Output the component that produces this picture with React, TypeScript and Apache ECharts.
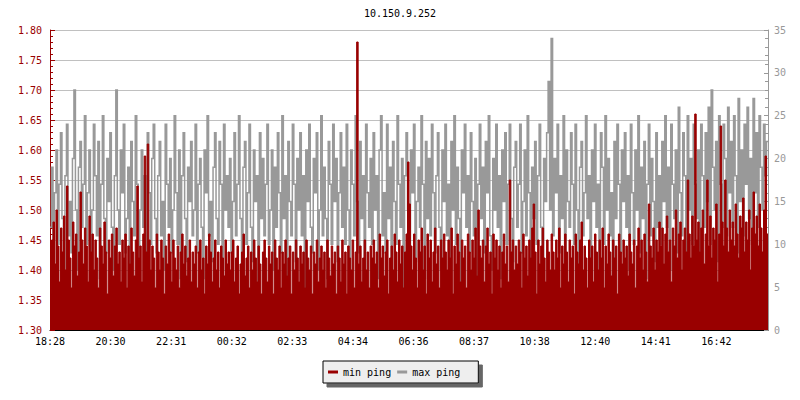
import React, { useEffect, useRef } from "react";
import * as echarts from "echarts";

const TITLE = "10.150.9.252";
const STEP_MIN = 3; // minutes per sample
const SPAN_MIN = 1440;
const TICK_INTERVAL = 121.5;
const xTickLabels = ["18:28", "20:30", "22:31", "00:32", "02:33", "04:34", "06:36", "08:37", "10:38", "12:40", "14:41", "16:42"];

// max ping (ms, right axis) — one row per 72 minutes
const maxPing = [
  12, 19, 8, 16, 21, 10, 17, 23, 13, 6, 18, 24, 11, 15, 9, 20, 28, 14, 7, 19, 22, 12, 17, 25,
  10, 16, 21, 8, 14, 24, 18, 11, 22, 6, 17, 25, 13, 9, 20, 15, 23, 12, 7, 18, 28, 14, 10, 21,
  16, 24, 9, 13, 19, 7, 22, 15, 11, 25, 17, 8, 14, 21, 12, 18, 5, 23, 16, 10, 20, 24, 13, 9,
  18, 22, 11, 15, 7, 24, 17, 12, 20, 9, 14, 25, 16, 10, 21, 6, 18, 23, 13, 8, 19, 15, 22, 11,
  14, 24, 9, 17, 20, 12, 6, 21, 16, 25, 11, 15, 8, 19, 23, 13, 10, 22, 17, 7, 24, 14, 18, 12,
  20, 9, 15, 23, 11, 17, 25, 13, 6, 19, 22, 10, 16, 24, 12, 8, 21, 15, 18, 5, 23, 13, 20, 11,
  17, 24, 10, 14, 21, 7, 19, 12, 23, 16, 9, 25, 13, 18, 6, 22, 15, 11, 24, 17, 8, 20, 14, 23,
  11, 18, 5, 21, 15, 24, 12, 9, 20, 16, 23, 7, 14, 25, 11, 19, 13, 6, 22, 17, 10, 24, 15, 20,
  8, 16, 23, 12, 19, 10, 24, 14, 6, 21, 17, 11, 25, 15, 9, 22, 13, 18, 7, 24, 16, 12, 20, 10,
  23, 14, 18, 6, 21, 25, 11, 16, 9, 24, 13, 19, 7, 22, 15, 10, 25, 17, 12, 20, 5, 18, 23, 14,
  10, 21, 16, 24, 8, 15, 19, 12, 25, 17, 6, 22, 13, 20, 11, 24, 16, 9, 18, 23, 12, 7, 21, 15,
  24, 11, 17, 8, 22, 14, 25, 10, 19, 13, 5, 21, 16, 24, 12, 18, 9, 23, 15, 11, 20, 6, 17, 24,
  13, 19, 9, 22, 16, 25, 11, 7, 20, 14, 24, 12, 18, 6, 21, 15, 23, 10, 17, 24, 13, 8, 19, 22,
  12, 17, 24, 9, 15, 21, 11, 25, 16, 7, 19, 13, 22, 10, 18, 24, 12, 6, 20, 15, 23, 29, 14, 34,
  11, 20, 16, 24, 9, 18, 13, 25, 7, 21, 15, 12, 23, 17, 10, 24, 14, 6, 19, 22, 11, 16, 25, 13,
  18, 8, 21, 15, 24, 12, 17, 6, 23, 19, 10, 25, 14, 20, 11, 16, 4, 22, 13, 24, 17, 9, 21, 15,
  23, 12, 18, 7, 24, 16, 10, 21, 14, 25, 9, 19, 13, 22, 6, 17, 24, 11, 20, 15, 8, 23, 12, 18,
  10, 22, 15, 25, 12, 19, 7, 24, 17, 13, 21, 9, 26, 16, 11, 23, 18, 6, 25, 14, 20, 10, 24, 17,
  13, 21, 9, 24, 18, 12, 23, 15, 26, 10, 28, 19, 14, 22, 8, 25, 17, 12, 24, 20, 11, 26, 16, 22,
  12, 25, 18, 9, 27, 15, 21, 11, 24, 17, 26, 13, 20, 10, 27, 16, 23, 12, 25, 19, 14, 24, 18, 22,
];

// min ping (ms, left axis) — one row per 72 minutes
const minPing = [
  1.36, 1.45, 1.48, 1.41, 1.50, 1.44, 1.38, 1.47, 1.43, 1.49, 1.40, 1.54, 1.45, 1.42, 1.37, 1.48, 1.44, 1.46, 1.39, 1.43, 1.53, 1.45, 1.41, 1.47,
  1.44, 1.38, 1.49, 1.43, 1.46, 1.40, 1.45, 1.42, 1.37, 1.47, 1.44, 1.41, 1.48, 1.43, 1.36, 1.45, 1.42, 1.46, 1.39, 1.44, 1.47, 1.41, 1.43, 1.38,
  1.45, 1.42, 1.46, 1.37, 1.44, 1.41, 1.47, 1.43, 1.39, 1.45, 1.54, 1.42, 1.44, 1.38, 1.46, 1.59, 1.43, 1.61, 1.45, 1.40, 1.44, 1.42, 1.37, 1.46,
  1.43, 1.40, 1.45, 1.42, 1.36, 1.44, 1.41, 1.46, 1.43, 1.38, 1.45, 1.42, 1.40, 1.44, 1.37, 1.43, 1.46, 1.41, 1.44, 1.39, 1.42, 1.45, 1.38, 1.43,
  1.41, 1.44, 1.37, 1.43, 1.45, 1.40, 1.42, 1.36, 1.44, 1.41, 1.46, 1.43, 1.38, 1.42, 1.45, 1.40, 1.43, 1.37, 1.44, 1.42, 1.39, 1.45, 1.41, 1.43,
  1.40, 1.43, 1.45, 1.38, 1.42, 1.44, 1.36, 1.41, 1.43, 1.46, 1.39, 1.42, 1.44, 1.37, 1.43, 1.40, 1.45, 1.42, 1.38, 1.44, 1.41, 1.36, 1.43, 1.45,
  1.42, 1.38, 1.44, 1.41, 1.43, 1.36, 1.45, 1.42, 1.40, 1.44, 1.37, 1.43, 1.41, 1.45, 1.39, 1.42, 1.44, 1.36, 1.43, 1.40, 1.45, 1.42, 1.38, 1.44,
  1.41, 1.43, 1.37, 1.45, 1.42, 1.40, 1.44, 1.36, 1.43, 1.41, 1.45, 1.38, 1.42, 1.44, 1.40, 1.43, 1.37, 1.45, 1.42, 1.39, 1.44, 1.41, 1.43, 1.36,
  1.44, 1.42, 1.38, 1.45, 1.41, 1.43, 1.36, 1.44, 1.42, 1.40, 1.45, 1.37, 1.43, 1.78, 1.41, 1.44, 1.38, 1.42, 1.45, 1.40, 1.43, 1.37, 1.44, 1.42,
  1.45, 1.41, 1.43, 1.37, 1.46, 1.42, 1.44, 1.39, 1.43, 1.45, 1.36, 1.42, 1.44, 1.40, 1.46, 1.43, 1.38, 1.45, 1.41, 1.44, 1.37, 1.43, 1.46, 1.58,
  1.51, 1.44, 1.40, 1.46, 1.42, 1.37, 1.45, 1.43, 1.47, 1.40, 1.44, 1.36, 1.46, 1.42, 1.45, 1.38, 1.43, 1.47, 1.41, 1.44, 1.37, 1.45, 1.42, 1.46,
  1.43, 1.40, 1.45, 1.42, 1.47, 1.36, 1.44, 1.41, 1.46, 1.43, 1.38, 1.45, 1.42, 1.44, 1.37, 1.46, 1.43, 1.40, 1.45, 1.42, 1.47, 1.39, 1.50, 1.44,
  1.42, 1.45, 1.38, 1.44, 1.47, 1.41, 1.43, 1.36, 1.46, 1.42, 1.45, 1.40, 1.44, 1.37, 1.43, 1.46, 1.41, 1.44, 1.38, 1.55, 1.43, 1.45, 1.40, 1.44,
  1.41, 1.45, 1.43, 1.37, 1.46, 1.42, 1.44, 1.39, 1.45, 1.42, 1.47, 1.51, 1.43, 1.36, 1.45, 1.41, 1.44, 1.47, 1.42, 1.38, 1.45, 1.43, 1.40, 1.46,
  1.43, 1.40, 1.45, 1.42, 1.47, 1.37, 1.44, 1.41, 1.46, 1.43, 1.38, 1.45, 1.42, 1.44, 1.36, 1.46, 1.43, 1.41, 1.45, 1.48, 1.40, 1.44, 1.42, 1.37,
  1.45, 1.42, 1.44, 1.38, 1.46, 1.43, 1.40, 1.45, 1.42, 1.47, 1.37, 1.44, 1.41, 1.46, 1.43, 1.39, 1.45, 1.42, 1.44, 1.36, 1.46, 1.43, 1.41, 1.45,
  1.42, 1.44, 1.39, 1.46, 1.43, 1.41, 1.45, 1.37, 1.44, 1.47, 1.42, 1.45, 1.40, 1.46, 1.43, 1.38, 1.51, 1.44, 1.42, 1.47, 1.40, 1.45, 1.43, 1.48,
  1.44, 1.47, 1.41, 1.46, 1.49, 1.43, 1.45, 1.38, 1.47, 1.44, 1.50, 1.42, 1.46, 1.48, 1.40, 1.45, 1.47, 1.43, 1.55, 1.46, 1.42, 1.49, 1.44, 1.66,
  1.45, 1.48, 1.43, 1.47, 1.50, 1.41, 1.46, 1.55, 1.44, 1.49, 1.42, 1.47, 1.45, 1.51, 1.38, 1.46, 1.64, 1.48, 1.44, 1.55, 1.47, 1.43, 1.50, 1.45,
  1.48, 1.44, 1.51, 1.46, 1.42, 1.49, 1.47, 1.52, 1.43, 1.48, 1.45, 1.50, 1.40, 1.47, 1.53, 1.46, 1.49, 1.44, 1.51, 1.47, 1.43, 1.50, 1.59, 1.46,
];

const RED = "#990000";
const GRAY = "#999999";
const FONT = "DejaVu Sans Mono";

function toSeries(vals: number[]) {
  const pts = vals.map((v, i) => [i * STEP_MIN, v]);
  pts.push([SPAN_MIN, vals[vals.length - 1]]);
  return pts;
}

export default function App() {
  const ref = useRef<HTMLDivElement>(null);
  useEffect(() => {
    if (!ref.current) return;
    const chart = echarts.init(ref.current, null, { renderer: "svg" });
    chart.setOption({
      animation: false,
      backgroundColor: "#ffffff",
      textStyle: { fontFamily: FONT },
      title: {
        text: TITLE,
        left: "center",
        top: 3,
        textStyle: { fontFamily: FONT, fontSize: 10, fontWeight: "normal", color: "#000" },
      },
      legend: {
        bottom: 17,
        left: 323,
        data: ["min ping", "max ping"],
        icon: "rect",
        itemWidth: 10,
        itemHeight: 3,
        itemGap: 6,
        padding: [6, 18, 6, 5],
        backgroundColor: "#eeeeee",
        borderColor: "#000",
        borderWidth: 1,
        borderRadius: 0,
        shadowColor: "#666666",
        shadowBlur: 0,
        shadowOffsetX: 4,
        shadowOffsetY: 4,
        textStyle: { fontFamily: FONT, fontSize: 10, color: "#000" },
      },
      grid: { left: 50, right: 32, top: 30, bottom: 70, outerBoundsMode: "none" },
      xAxis: {
        type: "value",
        min: 0,
        max: SPAN_MIN,
        interval: TICK_INTERVAL,
        axisLine: { show: true, lineStyle: { color: "#000", width: 1 } },
        axisTick: { show: true, inside: true, length: 5, lineStyle: { color: "#000" } },
        splitLine: { show: false },
        axisLabel: {
          color: "#000",
          fontFamily: FONT,
          fontSize: 10,
          margin: 6,
          showMaxLabel: false,
          formatter: (v: number) => xTickLabels[Math.round(v / TICK_INTERVAL)] ?? "",
        },
      },
      yAxis: [
        {
          type: "value",
          min: 1.3,
          max: 1.8,
          interval: 0.05,
          position: "left",
          axisLine: { show: true, lineStyle: { color: RED } },
          axisTick: { show: true, inside: true, length: 5, lineStyle: { color: RED } },
          minorTick: { show: true, splitNumber: 5, length: 3, lineStyle: { color: RED } },
          splitLine: { show: true, lineStyle: { color: "#c0c0c0", width: 1 } },
          axisLabel: {
            color: RED,
            fontFamily: FONT,
            fontSize: 10,
            margin: 8,
            formatter: (v: number) => v.toFixed(2),
          },
        },
        {
          type: "value",
          min: 0,
          max: 35,
          interval: 5,
          position: "right",
          axisLine: { show: true, lineStyle: { color: GRAY } },
          axisTick: { show: true, inside: true, length: 4, lineStyle: { color: GRAY } },
          minorTick: { show: true, splitNumber: 5, length: 3, lineStyle: { color: GRAY } },
          splitLine: { show: false },
          axisLabel: { color: GRAY, fontFamily: FONT, fontSize: 10, margin: 6 },
        },
      ],
      series: [
        {
          name: "max ping",
          type: "line",
          yAxisIndex: 1,
          step: "end",
          showSymbol: false,
          symbol: "none",
          data: toSeries(maxPing),
          lineStyle: { color: GRAY, width: 1.5, join: "miter", cap: "butt" },
          itemStyle: { color: GRAY },
          z: 2,
        },
        {
          name: "min ping",
          type: "line",
          yAxisIndex: 0,
          step: "end",
          showSymbol: false,
          symbol: "none",
          data: toSeries(minPing),
          lineStyle: { color: RED, width: 1 },
          itemStyle: { color: RED },
          areaStyle: { color: RED, opacity: 1, origin: "start" },
          z: 3,
        },
      ],
    });
    return () => chart.dispose();
  }, []);
  return <div ref={ref} style={{ width: 800, height: 400, position: "absolute", left: 0, top: 0 }} />;
}
